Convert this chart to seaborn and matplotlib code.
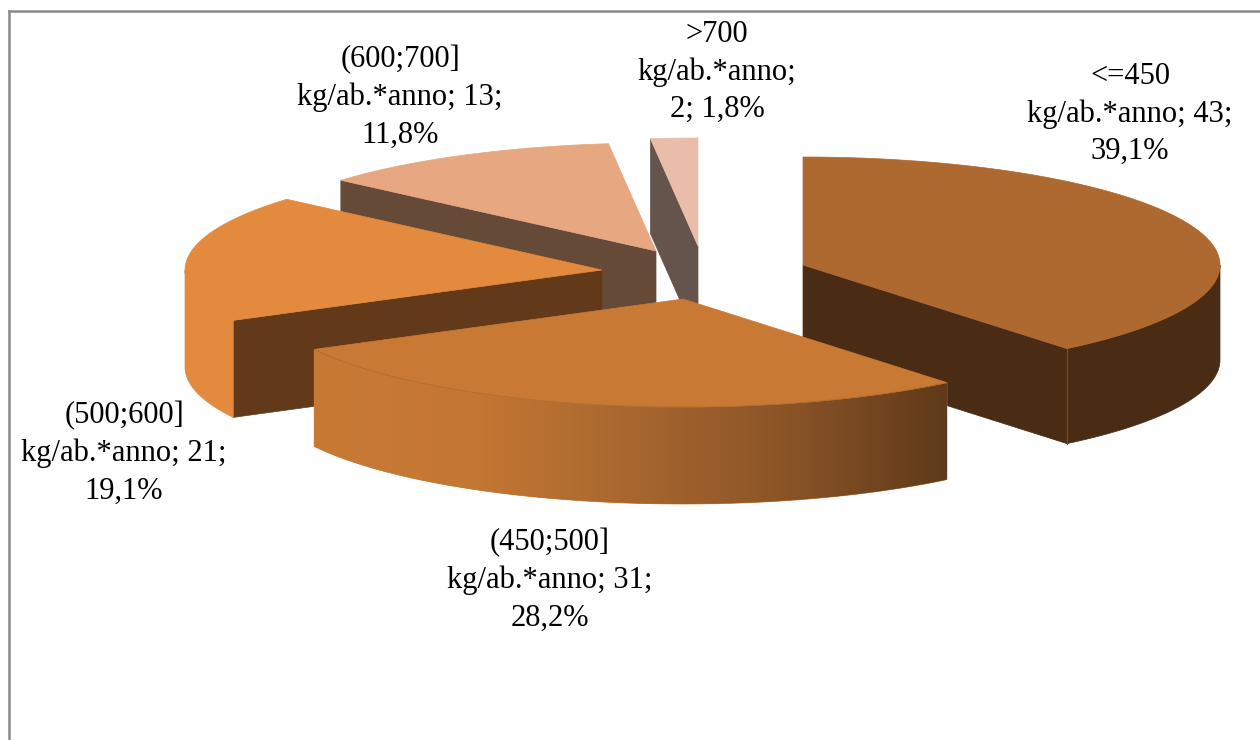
import numpy as np
import matplotlib
matplotlib.use("Agg")
import matplotlib.pyplot as plt
from matplotlib.patches import Polygon
from matplotlib.colors import LinearSegmentedColormap
import seaborn as sns

# Municipalities per class of per-capita waste production
categories = ["<=450", "(450;500]", "(500;600]", "(600;700]", ">700"]
counts = [43, 31, 21, 13, 2]
unit = "kg/ab.*anno"

# Exploded slice centres and wall heights, in figure pixels
centres = [(803, 265), (683, 299), (602, 270), (656, 251), (698, 246)]
depths = [95, 97, 97, 95, 95]
RX, RY = 417, 108

top_colours = sns.color_palette(["#AD692F", "#C87A35", "#E48A3F", "#E6A781", "#EABDAA"])
side_colours = sns.color_palette(["#4A2B13", "#C87A35", "#623A1A", "#654A38", "#64544C"])
rim_colours = sns.color_palette(["#4A2B13", "#C87A35", "#E48A3F", "#654A38", "#64544C"])
gradient_stops = ["#C87A35", "#C47733", "#A8672F", "#8A5427", "#5F3A1A"]

label_centres = [(1130, 114), (550, 580), (124, 453), (400, 97), (717, 72)]
draw_order = [4, 3, 2, 0, 1]

sns.set_theme(style="white")
plt.rcParams["font.family"] = ["Liberation Serif", "DejaVu Serif"]

W, H = 1260, 740
LEFT, TOP = 9.0, 11.0
fig = plt.figure(figsize=(W / 100, H / 100), dpi=100, facecolor="white")
ax = fig.add_axes([LEFT / W, 0, (W - LEFT) / W, (H - TOP) / H])
ax.set_xlim(LEFT, W)
ax.set_ylim(H, TOP)
ax.set_xticks([])
ax.set_yticks([])
sns.despine(ax=ax, top=False, left=False, right=True, bottom=True)
for name in ("top", "left"):
    ax.spines[name].set_color("#8A8A8A")
    ax.spines[name].set_linewidth(1.8)

shares = np.array(counts) / sum(counts)
edges = np.concatenate([[0], np.cumsum(shares)]) * 360


def rim(cx, cy, a1, a2, drop=0.0):
    """Points along the elliptical rim, angles clockwise from 12 o'clock."""
    t = np.radians(np.linspace(a1, a2, 120))
    return np.column_stack([cx + RX * np.sin(t), cy - RY * np.cos(t) + drop])


def radial_wall(cx, cy, angle, depth, colour, z):
    outer = rim(cx, cy, angle, angle)[0]
    pts = [(cx, cy), tuple(outer), (outer[0], outer[1] + depth), (cx, cy + depth)]
    ax.add_patch(Polygon(pts, closed=True, fc=colour, ec=colour, lw=0.5, zorder=z))


for z, i in enumerate(draw_order):
    cx, cy = centres[i]
    depth = depths[i]
    a1, a2 = edges[i], edges[i + 1]
    base = 10 * (z + 1)

    # Flat cut faces that turn towards the viewer
    if i in (0, 2):
        radial_wall(cx, cy, a1 if i == 2 else a2, depth, side_colours[i], base)
    if i in (3, 4):
        radial_wall(cx, cy, a1, depth, side_colours[i], base)

    # Curved outer wall on the front half of the ellipse
    lo, hi = max(a1, 90), min(a2, 270)
    if hi > lo:
        upper = rim(cx, cy, lo, hi)
        lower = rim(cx, cy, lo, hi, depth)
        wall = Polygon(np.vstack([upper, lower[::-1]]), closed=True,
                       fc=rim_colours[i], ec=rim_colours[i], lw=0.5, zorder=base + 1)
        ax.add_patch(wall)
        if i == 1:
            cmap = LinearSegmentedColormap.from_list("wall", gradient_stops)
            x0, x1 = upper[:, 0].min(), upper[:, 0].max()
            y0, y1 = upper[:, 1].min(), lower[:, 1].max()
            image = ax.imshow(np.linspace(0, 1, 256)[None, :], cmap=cmap,
                              extent=[x0, x1, y1, y0], aspect="auto", zorder=base + 2)
            image.set_clip_path(wall)
            ax.set_xlim(LEFT, W)
            ax.set_ylim(H, TOP)

    # Top face
    outline = np.vstack([[cx, cy], rim(cx, cy, a1, a2)])
    ax.add_patch(Polygon(outline, closed=True, fc=top_colours[i], ec=top_colours[i],
                         lw=0.5, zorder=base + 3))
    if i == 1:
        ax.plot(*rim(cx, cy, a1, a2).T, color="#B06C30", lw=0.6, zorder=base + 4)

# Seam where the cut face of the largest slice meets its outer wall
seam = rim(*centres[0], edges[1], edges[1])[0]
ax.plot([seam[0], seam[0]], [seam[1], seam[1] + depths[0]], color="#7A4A20", lw=0.9,
        zorder=10 * (draw_order.index(0) + 1) + 2)

for i, (cat, n, share) in enumerate(zip(categories, counts, shares)):
    pct = f"{share * 100:.1f}%".replace(".", ",")
    if i == 4:
        text = f"{cat}\n{unit};\n{n}; {pct}"
    else:
        text = f"{cat}\n{unit}; {n};\n{pct}"
    ax.text(*label_centres[i], text, ha="center", va="center", fontsize=22,
            color="black", linespacing=1.38, zorder=100)

fig.savefig("out.png", dpi=100, facecolor="white")
